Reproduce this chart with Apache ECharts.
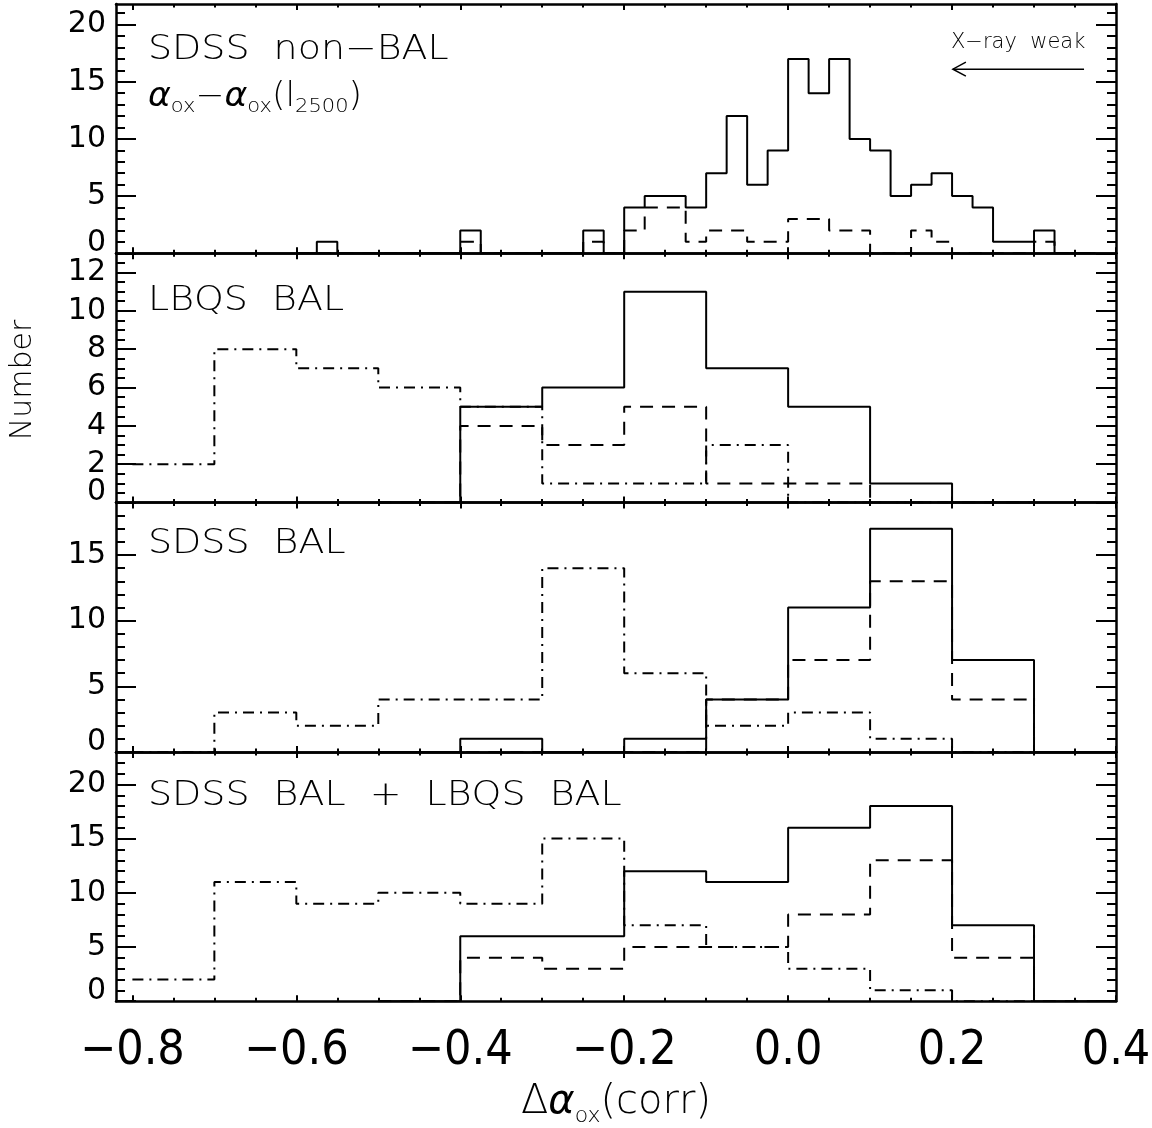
<!DOCTYPE html>
<html>
<head>
<meta charset="utf-8">
<script src="https://cdn.jsdelivr.net/npm/echarts@6.0.0/dist/echarts.min.js"></script>
<style>
html,body{margin:0;padding:0;background:#ffffff;}
#chart{width:1152px;height:1128px;}
</style>
</head>
<body>
<div id="chart"></div>
<script>
// ---------------- data ----------------
const xTickValues = [-0.8, -0.6, -0.4, -0.2, 0.0, 0.2, 0.4];
const xMinorTickValues = [-0.75,-0.7,-0.65,-0.55,-0.5,-0.45,-0.35,-0.3,-0.25,-0.15,-0.1,-0.05,0.05,0.1,0.15,0.25,0.3,0.35];

const panelTitles = ['SDSS  non−BAL', 'LBQS  BAL', 'SDSS  BAL', 'SDSS  BAL  +  LBQS  BAL'];

const yTickValues = [[0,5,10,15,20],[0,2,4,6,8,10,12],[0,5,10,15],[0,5,10,15,20]];
const yMinorTickValues = [
  [1,2,3,4,6,7,8,9,11,12,13,14,16,17,18,19,21],
  [0.5,1,1.5,2.5,3,3.5,4.5,5,5.5,6.5,7,7.5,8.5,9,9.5,10.5,11,11.5,12.5],
  [1,2,3,4,6,7,8,9,11,12,13,14,16,17,18],
  [1,2,3,4,6,7,8,9,11,12,13,14,16,17,18,19,21,22]
];
const yMax = [21.8, 13, 19, 23];

// SDSS non-BAL: bins of 0.025 starting at -0.6
const nonBalBinStart = -0.6, nonBalBinWidth = 0.025;
const nonBalSolid  = [0,1,0,0,0,0,0,0,2,0,0,0,0,0,2,0,4,5,5,4,7,12,6,9,17,14,17,10,9,5,6,7,5,4,1,1,2,0,0];
const nonBalDashed = [0,0,0,0,0,0,0,0,1,0,0,0,0,0,1,0,2,4,4,1,2,2,1,1,3,3,2,2,0,0,2,1,0,0,0,0,1,0,0];

// BAL panels: bins of 0.1
const balBinWidth = 0.1;
const lbqsSolidStart = -0.5,      lbqsSolid       = [0,5,6,11,7,5,1,0];
const lbqsDashedStart = -0.5,     lbqsDashed      = [0,4,3,5,1,1,0,0];
const lbqsDashDotStart = -0.8,    lbqsDashDot     = [2,8,7,6,5,1,1,3,0,0];
const sdssBalSolidStart = -0.5,   sdssBalSolid    = [0,1,0,1,4,11,17,7,0];
const sdssBalDashedStart = -0.5,  sdssBalDashed   = [0,0,0,0,4,7,13,4,0];
const sdssBalDashDotStart = -0.8, sdssBalDashDot  = [0,3,2,4,4,14,6,2,3,1,0];
const allBalSolidStart = -0.5,    allBalSolid     = [0,6,6,12,11,16,18,7,0];
const allBalDashedStart = -0.5,   allBalDashed    = [0,4,3,5,5,8,13,4,0];
const allBalDashDotStart = -0.8,  allBalDashDot   = [2,11,9,10,9,15,7,5,3,1,0];

// ---------------- layout / style ----------------
const X_MIN = -0.82, X_MAX = 0.4;
const FONT = 'DejaVu Sans';
const XFONT = "'Liberation Sans Narrow', 'DejaVu Sans Condensed', 'Liberation Sans', sans-serif";
const gridTops = [4, 253.3, 502.6, 751.9];
const gridHeight = 249.3;
const SOLID = 'solid', DASHED = [13, 9], DASHDOT = [11, 6, 2, 6];

function stepPoints(start, width, vals) {
  const pts = [];
  for (let i = 0; i < vals.length; i++) {
    const a = +(start + i * width).toFixed(4);
    const b = +(start + (i + 1) * width).toFixed(4);
    pts.push([a, vals[i]], [b, vals[i]]);
  }
  return pts;
}
function fmtX(v) {
  return (v < -1e-9 ? '−' : '') + Math.abs(v).toFixed(1);
}

const grids = [], xAxes = [], yAxes = [], series = [];
const lineW = 2.5, tickW = 2;

for (let g = 0; g < 4; g++) {
  grids.push({ left: 116, right: 36, top: gridTops[g], height: gridHeight, containLabel: false, outerBoundsMode: 'none' });
  const xb = { type: 'value', gridIndex: g, min: X_MIN, max: X_MAX, splitLine: { show: false }, axisPointer: { show: false } };
  const isLast = g === 3;
  xAxes.push(
    Object.assign({}, xb, {
      position: 'bottom',
      axisLine: { show: true, onZero: false, lineStyle: { color: '#000', width: lineW } },
      axisTick: { show: true, inside: true, length: 6, customValues: xTickValues, lineStyle: { color: '#000', width: tickW } },
      axisLabel: isLast ? { show: true, customValues: xTickValues, formatter: fmtX, fontFamily: XFONT, fontSize: 48, color: '#000', margin: 26, showMinLabel: true, showMaxLabel: true, hideOverlap: false } : { show: false }
    }),
    Object.assign({}, xb, {
      position: 'bottom',
      axisLine: { show: false, onZero: false },
      axisTick: { show: true, inside: true, length: 3.5, customValues: xMinorTickValues, lineStyle: { color: '#000', width: tickW } },
      axisLabel: { show: false }
    }),
    Object.assign({}, xb, {
      position: 'top',
      axisLine: { show: true, onZero: false, lineStyle: { color: '#000', width: lineW } },
      axisTick: { show: true, inside: true, length: 6, customValues: xTickValues, lineStyle: { color: '#000', width: tickW } },
      axisLabel: { show: false }
    }),
    Object.assign({}, xb, {
      position: 'top',
      axisLine: { show: false, onZero: false },
      axisTick: { show: true, inside: true, length: 3.5, customValues: xMinorTickValues, lineStyle: { color: '#000', width: tickW } },
      axisLabel: { show: false }
    })
  );
  const yb = { type: 'value', gridIndex: g, min: 0, max: yMax[g], splitLine: { show: false }, axisPointer: { show: false } };
  const nonZeroTicks = yTickValues[g].filter(function (v) { return v !== 0; });
  const zeroTicks = yTickValues[g].filter(function (v) { return v === 0; });
  yAxes.push(
    Object.assign({}, yb, {
      position: 'left',
      axisLine: { show: true, onZero: false, lineStyle: { color: '#000', width: lineW } },
      axisTick: { show: true, inside: true, length: 20, customValues: yTickValues[g], lineStyle: { color: '#000', width: tickW } },
      axisLabel: {
        show: true, customValues: nonZeroTicks, fontFamily: FONT, fontSize: 30, color: '#000', margin: 10,
        showMinLabel: true, showMaxLabel: true, hideOverlap: false,
        formatter: function (v) { return String(v); }
      }
    }),
    Object.assign({}, yb, {
      position: 'right',
      axisLine: { show: true, onZero: false, lineStyle: { color: '#000', width: lineW } },
      axisTick: { show: true, inside: true, length: 20, customValues: yTickValues[g], lineStyle: { color: '#000', width: tickW } },
      axisLabel: { show: false }
    }),
    Object.assign({}, yb, {
      position: 'left',
      axisLine: { show: false, onZero: false },
      axisTick: { show: true, inside: true, length: 9, customValues: yMinorTickValues[g], lineStyle: { color: '#000', width: tickW } },
      // the "0" label, lifted slightly above its tick as in the original figure
      axisLabel: {
        show: true, customValues: zeroTicks, fontFamily: FONT, fontSize: 30, lineHeight: 20, color: '#000', margin: 10,
        verticalAlign: 'bottom', showMinLabel: true, showMaxLabel: true, hideOverlap: false,
        formatter: function (v) { return String(v); }
      }
    }),
    Object.assign({}, yb, {
      position: 'right',
      axisLine: { show: false, onZero: false },
      axisTick: { show: true, inside: true, length: 9, customValues: yMinorTickValues[g], lineStyle: { color: '#000', width: tickW } },
      axisLabel: { show: false }
    })
  );
}

function addSeries(g, name, start, width, vals, type) {
  series.push({
    type: 'line', name: name, xAxisIndex: 4 * g, yAxisIndex: 4 * g,
    data: stepPoints(start, width, vals),
    showSymbol: false, symbol: 'none', silent: true, clip: true, animation: false,
    lineStyle: { color: '#000', width: 2, type: type }
  });
}
addSeries(0, 'nonBAL dashed', nonBalBinStart, nonBalBinWidth, nonBalDashed, DASHED);
addSeries(0, 'nonBAL solid', nonBalBinStart, nonBalBinWidth, nonBalSolid, SOLID);
addSeries(1, 'LBQS dashdot', lbqsDashDotStart, balBinWidth, lbqsDashDot, DASHDOT);
addSeries(1, 'LBQS dashed', lbqsDashedStart, balBinWidth, lbqsDashed, DASHED);
addSeries(1, 'LBQS solid', lbqsSolidStart, balBinWidth, lbqsSolid, SOLID);
addSeries(2, 'SDSS BAL dashdot', sdssBalDashDotStart, balBinWidth, sdssBalDashDot, DASHDOT);
addSeries(2, 'SDSS BAL dashed', sdssBalDashedStart, balBinWidth, sdssBalDashed, DASHED);
addSeries(2, 'SDSS BAL solid', sdssBalSolidStart, balBinWidth, sdssBalSolid, SOLID);
addSeries(3, 'All BAL dashdot', allBalDashDotStart, balBinWidth, allBalDashDot, DASHDOT);
addSeries(3, 'All BAL dashed', allBalDashedStart, balBinWidth, allBalDashed, DASHED);
addSeries(3, 'All BAL solid', allBalSolidStart, balBinWidth, allBalSolid, SOLID);

const chart = echarts.init(document.getElementById('chart'), null, { renderer: 'canvas' });
chart.setOption({
  backgroundColor: '#ffffff',
  animation: false,
  grid: grids, xAxis: xAxes, yAxis: yAxes, series: series
});

// ---------------- annotations ----------------
const labelY = [50, 301, 544, 796];
const graphics = [];
panelTitles.forEach(function (t, i) {
  graphics.push({
    type: 'text', x: 148, y: labelY[i], scaleX: 1.15, silent: true,
    style: { text: t, fontFamily: FONT, fontSize: 33, fontWeight: 300, fill: '#000', align: 'left', verticalAlign: 'middle' }
  });
});
// second line of panel 1
graphics.push({
  type: 'text', x: 148, y: 97, scaleX: 1.05, silent: true,
  style: {
    text: '{a|α}{s|ox}{m|−}{a|α}{s|ox}{m|(l}{s|2500}{m|)}',
    align: 'left', verticalAlign: 'middle', fill: '#000',
    rich: {
      a: { fontFamily: FONT, fontSize: 33, fontStyle: 'italic', fontWeight: 300, lineHeight: 40, fill: '#000', color: '#000' },
      m: { fontFamily: FONT, fontSize: 33, fontWeight: 300, lineHeight: 40, fill: '#000', color: '#000' },
      s: { fontFamily: FONT, fontSize: 20, fontWeight: 300, lineHeight: 16, verticalAlign: 'bottom', fill: '#000', color: '#000' }
    }
  }
});
// y axis title
graphics.push({
  type: 'text', x: 23, y: 380, rotation: Math.PI / 2, silent: true,
  style: { text: 'Number', fontFamily: FONT, fontSize: 30, fontWeight: 300, fill: '#000', align: 'center', verticalAlign: 'middle' }
});
// x axis title
graphics.push({
  type: 'text', x: 616, y: 1103, silent: true,
  style: {
    text: '{m|Δ}{a|α}{s|ox}{m|(corr)}',
    align: 'center', verticalAlign: 'middle', fill: '#000',
    rich: {
      a: { fontFamily: FONT, fontSize: 40, fontStyle: 'italic', fontWeight: 300, lineHeight: 48, fill: '#000', color: '#000' },
      m: { fontFamily: FONT, fontSize: 40, fontWeight: 300, lineHeight: 48, fill: '#000', color: '#000' },
      s: { fontFamily: FONT, fontSize: 22, fontWeight: 300, lineHeight: 20, verticalAlign: 'bottom', fill: '#000', color: '#000' }
    }
  }
});
// "X-ray weak" arrow in panel 1 (anchored in data coordinates)
const arrowTail = chart.convertToPixel({ xAxisIndex: 0, yAxisIndex: 0 }, [0.361, 16.1]);
const arrowHead = chart.convertToPixel({ xAxisIndex: 0, yAxisIndex: 0 }, [0.201, 16.1]);
const textPos = chart.convertToPixel({ xAxisIndex: 0, yAxisIndex: 0 }, [0.2806, 18.4]);
graphics.push({
  type: 'text', x: textPos[0], y: textPos[1], silent: true,
  style: { text: 'X−ray  weak', fontFamily: FONT, fontSize: 21, fontWeight: 300, fill: '#000', align: 'center', verticalAlign: 'middle' }
});
graphics.push({
  type: 'line', silent: true,
  shape: { x1: arrowTail[0], y1: arrowTail[1], x2: arrowHead[0], y2: arrowHead[1] },
  style: { stroke: '#000', lineWidth: 1.5 }
});
graphics.push({
  type: 'polyline', silent: true,
  shape: { points: [[arrowHead[0] + 13, arrowHead[1] - 7], [arrowHead[0], arrowHead[1]], [arrowHead[0] + 13, arrowHead[1] + 7]] },
  style: { stroke: '#000', lineWidth: 1.5, fill: null }
});
chart.setOption({ graphic: graphics });
</script>
</body>
</html>
